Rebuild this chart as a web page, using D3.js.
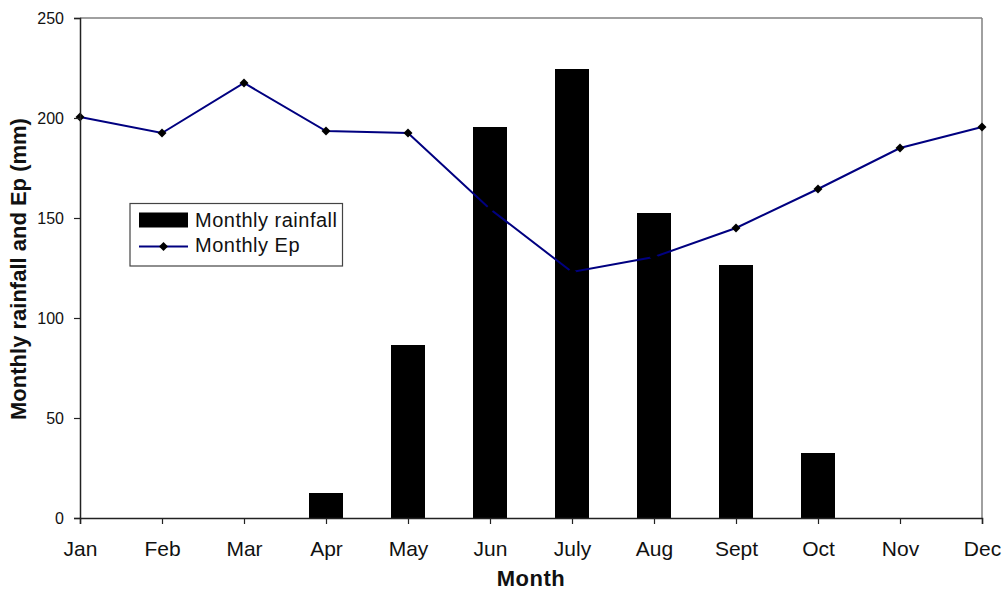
<!DOCTYPE html>
<html>
<head>
<meta charset="utf-8">
<script src="https://cdn.jsdelivr.net/npm/d3@7/dist/d3.min.js"></script>
<style>
  html, body { margin: 0; padding: 0; background: #fff; }
  svg { display: block; font-family: "Liberation Sans", Arial, sans-serif; }
</style>
</head>
<body>
<svg id="chart" width="1005" height="590"></svg>
<script>
// Monthly rainfall (bars) and monthly potential evaporation Ep (line), mm
const months = ["Jan", "Feb", "Mar", "Apr", "May", "Jun", "July", "Aug", "Sept", "Oct", "Nov", "Dec"];
const rainfall = [0, 0, 0, 12.5, 86.5, 195.5, 224.5, 152.5, 126.5, 32.5, 0, 0];
const ep = [200.5, 192.5, 217.5, 193.5, 192.5, 154.5, 123, 130.5, 145, 164.5, 185, 195.5];
const yTicks = [0, 50, 100, 150, 200, 250];

const svg = d3.select("#chart");
const plotLeft = 80, plotRight = 982, plotTop = 18, plotBottom = 518;

const x = d3.scalePoint().domain(months).range([plotLeft, plotRight]);
const y = d3.scaleLinear().domain([0, 250]).range([plotBottom, plotTop]);

// Frame: top and right borders in grey
svg.append("line").attr("x1", plotLeft).attr("x2", plotRight).attr("y1", plotTop).attr("y2", plotTop)
  .attr("stroke", "#808080").attr("stroke-width", 1.5);
svg.append("line").attr("x1", plotRight).attr("x2", plotRight).attr("y1", plotTop).attr("y2", plotBottom)
  .attr("stroke", "#808080").attr("stroke-width", 1.5);

// Bars
const barW = 34;
svg.append("g").selectAll("rect")
  .data(months.map((m, i) => ({ m, v: rainfall[i] })).filter(d => d.v > 0))
  .join("rect")
  .attr("x", d => x(d.m) - barW / 2)
  .attr("y", d => y(d.v))
  .attr("width", barW)
  .attr("height", d => y(0) - y(d.v))
  .attr("fill", "#000");

// Ep line with diamond markers
const epData = months.map((m, i) => ({ m, v: ep[i] }));
svg.append("path")
  .datum(epData)
  .attr("fill", "none")
  .attr("stroke", "#000080")
  .attr("stroke-width", 2)
  .attr("d", d3.line().x(d => x(d.m)).y(d => y(d.v)));

const marker = d3.symbol().type(d3.symbolSquare).size(40);
svg.append("g").selectAll("path")
  .data(epData)
  .join("path")
  .attr("transform", d => `translate(${x(d.m)},${y(d.v)}) rotate(45)`)
  .attr("d", marker)
  .attr("fill", "#000");

// Axes
const yAxis = d3.axisLeft(y).tickValues(yTicks).tickSize(6).tickPadding(10);
const gy = svg.append("g").attr("transform", `translate(${plotLeft},0)`).call(yAxis);
gy.select(".domain").attr("stroke", "#222").attr("stroke-width", 1.5);
gy.selectAll(".tick line").attr("stroke", "#222").attr("stroke-width", 1.2);
gy.selectAll(".tick text").attr("font-size", 16).attr("fill", "#111")
  .attr("font-family", "Liberation Sans, Arial, sans-serif");

const xAxis = d3.axisBottom(x).tickSize(6).tickPadding(17);
const gx = svg.append("g").attr("transform", `translate(0,${plotBottom})`).call(xAxis);
gx.select(".domain").attr("stroke", "#222").attr("stroke-width", 1.5);
gx.selectAll(".tick line").attr("stroke", "#222").attr("stroke-width", 1.2);
gx.selectAll(".tick text").attr("font-size", 21).attr("fill", "#111")
  .attr("font-family", "Liberation Sans, Arial, sans-serif");

// Axis titles
svg.append("text")
  .attr("x", 531).attr("y", 586)
  .attr("text-anchor", "middle")
  .attr("font-size", 22).attr("font-weight", "bold").attr("letter-spacing", 0.5)
  .attr("fill", "#111")
  .text("Month");

svg.append("text")
  .attr("transform", "translate(26,269) rotate(-90)")
  .attr("text-anchor", "middle")
  .attr("font-size", 22).attr("font-weight", "bold")
  .attr("fill", "#111")
  .text("Monthly rainfall and Ep (mm)");

// Legend
const lg = svg.append("g");
lg.append("rect").attr("x", 130).attr("y", 203.5).attr("width", 212.5).attr("height", 62.5)
  .attr("fill", "#fff").attr("stroke", "#444").attr("stroke-width", 1.2);
lg.append("rect").attr("x", 139).attr("y", 212.5).attr("width", 49).attr("height", 15).attr("fill", "#000");
lg.append("line").attr("x1", 139).attr("x2", 188).attr("y1", 246.5).attr("y2", 246.5)
  .attr("stroke", "#000080").attr("stroke-width", 2);
lg.append("path").attr("transform", "translate(163.5,246.5) rotate(45)")
  .attr("d", marker).attr("fill", "#000");
lg.append("text").attr("x", 195).attr("y", 227).attr("font-size", 20).attr("letter-spacing", 0.5)
  .attr("fill", "#111").text("Monthly rainfall");
lg.append("text").attr("x", 195).attr("y", 252).attr("font-size", 20).attr("letter-spacing", 0.5)
  .attr("fill", "#111").text("Monthly Ep");
</script>
</body>
</html>
